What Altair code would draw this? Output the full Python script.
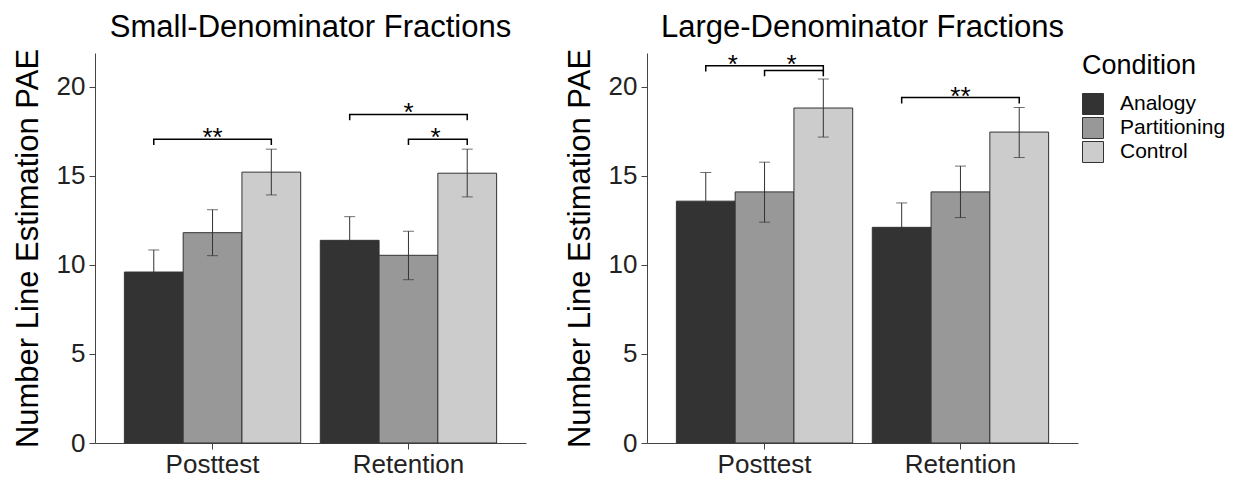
import altair as alt
import pandas as pd

FONT = "Liberation Sans"

times = ["Posttest", "Retention"]
conditions = ["Analogy", "Partitioning", "Control"]
fills = ["#333333", "#989898", "#CCCCCC"]

# order: Posttest (A, P, C), Retention (A, P, C)
small_mean = [9.60, 11.81, 15.21, 11.38, 10.54, 15.15]
small_hi = [10.84, 13.10, 16.50, 12.71, 11.89, 16.50]
small_lo = [8.35, 10.52, 13.93, 10.07, 9.17, 13.82]

large_mean = [13.58, 14.10, 18.81, 12.11, 14.10, 17.46]
large_hi = [15.19, 15.77, 20.44, 13.48, 15.55, 18.84]
large_lo = [11.96, 12.40, 17.18, 10.77, 12.66, 16.03]

# brackets: (time, from condition, to condition, height)
small_brackets = [("Posttest", "Analogy", "Control", 17.06),
                  ("Retention", "Analogy", "Control", 18.45),
                  ("Retention", "Partitioning", "Control", 17.06)]
large_brackets = [("Posttest", "Analogy", "Control", 21.19),
                  ("Posttest", "Partitioning", "Control", 20.92),
                  ("Retention", "Analogy", "Control", 19.40)]
tip = 0.33

# stars: (label, time, anchor condition, shifted half a bar right, height)
small_stars = [("**", "Posttest", "Partitioning", 0, 17.06),
               ("*", "Retention", "Partitioning", 0, 18.45),
               ("*", "Retention", "Partitioning", 1, 17.06)]
large_stars = [("*", "Posttest", "Analogy", 1, 21.19),
               ("*", "Posttest", "Partitioning", 1, 21.19),
               ("**", "Retention", "Partitioning", 0, 19.40)]

YTITLE = "Number Line Estimation PAE"
W, H = 431, 390


def panel(title, means, his, los, brackets, stars):
    rows = []
    i = 0
    for t in times:
        for c in conditions:
            rows.append({"Time": t, "Condition": c, "Mean": means[i], "Lo": los[i], "Hi": his[i]})
            i += 1
    df = pd.DataFrame(rows)

    br_rows = []
    for k, (t, c1, c2, h) in enumerate(brackets):
        br_rows += [
            {"id": k, "seq": 0, "Time": t, "Condition": c1, "Y": h - tip},
            {"id": k, "seq": 1, "Time": t, "Condition": c1, "Y": h},
            {"id": k, "seq": 2, "Time": t, "Condition": c2, "Y": h},
            {"id": k, "seq": 3, "Time": t, "Condition": c2, "Y": h - tip},
        ]
    dbr = pd.DataFrame(br_rows)
    dst = pd.DataFrame([{"Label": l, "Time": t, "Condition": c, "Shift": s, "Y": h}
                        for (l, t, c, s, h) in stars])

    x = alt.X("Time:N", scale=alt.Scale(domain=times, paddingInner=0.1, paddingOuter=0.15),
              axis=alt.Axis(title=None, labelAngle=0, labelPadding=2))
    xo = alt.XOffset("Condition:N", scale=alt.Scale(domain=conditions, paddingInner=0, paddingOuter=0))
    yscale = alt.Scale(domain=[0, 21.9], nice=False, zero=True)
    yaxis = alt.Axis(title=YTITLE, values=[0, 5, 10, 15, 20])

    bars = alt.Chart(df).mark_bar(stroke="#333333", strokeWidth=1).encode(
        x=x, xOffset=xo,
        y=alt.Y("Mean:Q", scale=yscale, axis=yaxis, title=YTITLE),
        color=alt.Color("Condition:N", scale=alt.Scale(domain=conditions, range=fills),
                        legend=alt.Legend(title="Condition")),
    )
    err = alt.Chart(df).mark_rule(color="#333333", strokeWidth=1).encode(
        x=x, xOffset=xo, y=alt.Y("Lo:Q", title=YTITLE), y2="Hi:Q")
    cap_hi = alt.Chart(df).mark_tick(color="#333333", thickness=1, size=11).encode(
        x=x, xOffset=xo, y=alt.Y("Hi:Q", title=YTITLE))
    cap_lo = alt.Chart(df).mark_tick(color="#333333", thickness=1, size=11).encode(
        x=x, xOffset=xo, y=alt.Y("Lo:Q", title=YTITLE))
    brl = alt.Chart(dbr).mark_line(color="black", strokeWidth=1.5).encode(
        x=x, xOffset=xo, y=alt.Y("Y:Q", title=YTITLE), detail="id:N", order="seq:Q")
    st0 = alt.Chart(dst).transform_filter("datum.Shift == 0").mark_text(
        font=FONT, fontSize=26, baseline="alphabetic", dy=7, color="black").encode(
        x=x, xOffset=xo, y=alt.Y("Y:Q", title=YTITLE), text="Label:N")
    st1 = alt.Chart(dst).transform_filter("datum.Shift == 1").mark_text(
        font=FONT, fontSize=26, baseline="alphabetic", dy=7, dx=27, color="black").encode(
        x=x, xOffset=xo, y=alt.Y("Y:Q", title=YTITLE), text="Label:N")

    return alt.layer(bars, err, cap_hi, cap_lo, brl, st0, st1).properties(
        width=W, height=H,
        title=alt.TitleParams(title, fontSize=31, font=FONT, fontWeight="normal",
                              anchor="middle", offset=4, color="black"),
    )


left = panel("Small-Denominator Fractions", small_mean, small_hi, small_lo, small_brackets, small_stars)
right = panel("Large-Denominator Fractions", large_mean, large_hi, large_lo, large_brackets, large_stars)

chart = alt.hconcat(left, right, spacing=38).properties(
    padding={"left": 4, "top": 4, "right": 0, "bottom": 0},
    background="white",
).configure_view(stroke=None).configure_axis(
    labelFont=FONT, titleFont=FONT, labelFontSize=26, titleFontSize=31,
    labelColor="#222222", titleColor="black", titleFontWeight="normal",
    domainColor="#444444", tickColor="#444444", tickSize=6, grid=False,
    titlePadding=12, labelPadding=4,
).configure_legend(
    orient="none", legendX=987, legendY=0,
    titleFont=FONT, labelFont=FONT, titleFontSize=27, labelFontSize=21,
    titleFontWeight="normal", titleColor="black", labelColor="black",
    symbolType="square", symbolSize=441, symbolStrokeColor="#333333", symbolStrokeWidth=1,
    rowPadding=-9, titlePadding=13, labelOffset=16,
)

chart.save("out.html", embed_options={"renderer": "svg", "actions": False})
